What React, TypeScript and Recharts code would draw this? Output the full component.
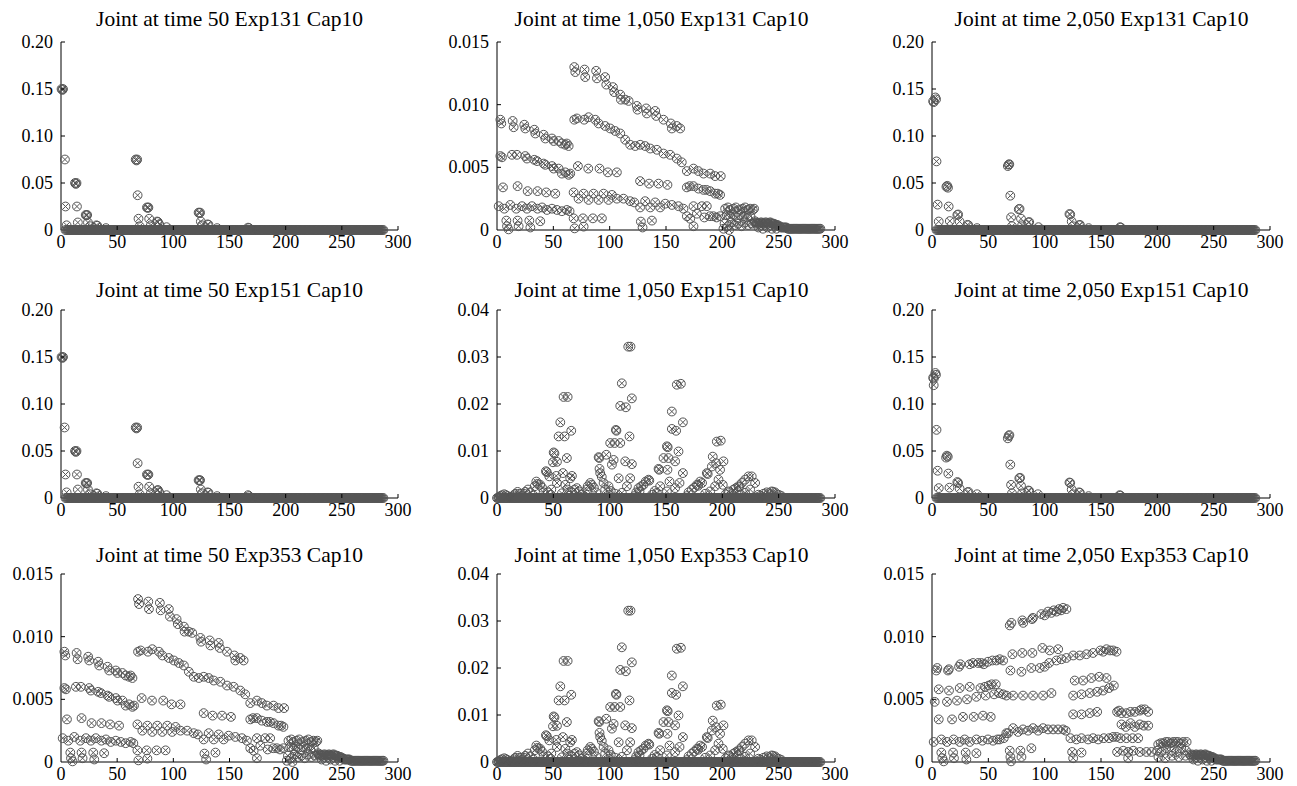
import React from 'react';
import { ScatterChart, Scatter, XAxis, YAxis } from 'recharts';

type Pt = [number, number];

const FONT = 'Liberation Serif';
const INK = '#000';
const MARK = '#555';

// axis ticks
const xTicks = [0, 50, 100, 150, 200, 250, 300];
const yTicksCoarse = [0, 0.05, 0.1, 0.15, 0.2];
const yLabelsCoarse = ['0', '0.05', '0.10', '0.15', '0.20'];
const yTicksFine = [0, 0.005, 0.01, 0.015];
const yLabelsFine = ['0', '0.005', '0.010', '0.015'];
const yTicksMid = [0, 0.01, 0.02, 0.03, 0.04];
const yLabelsMid = ['0', '0.01', '0.02', '0.03', '0.04'];

// node positions of the near-zero band (value ~0)
const nodeIdx = [
  4, 6, 8, 10, 12, 14, 16, 18, 20, 22, 24, 26, 28, 30, 32, 34, 36, 38, 40, 42, 44, 46, 48, 50,
  52, 54, 56, 58, 60, 62, 64, 66, 68, 70, 72, 74, 76, 78, 80, 82, 84, 86, 88, 90, 92, 94, 96, 98,
  100, 102, 104, 106, 108, 110, 112, 114, 116, 118, 120, 122, 124, 126, 128, 130, 132, 134, 136,
  138, 140, 142, 144, 146, 148, 150, 152, 154, 156, 158, 160, 162, 164, 166, 168, 170, 172, 174,
  176, 178, 180, 182, 184, 186, 188, 190, 192, 194, 196, 198, 200, 202, 204, 206, 208, 210, 212,
  214, 216, 218, 220, 222, 224, 226, 228, 230, 232, 234, 236, 238, 240, 242, 244, 246, 248, 250,
  252, 254, 256, 258, 260, 262, 264, 266, 268, 270, 272, 274, 276, 278, 280, 282, 284, 286,
];
const nodeIdxOdd = [
  5, 7, 9, 11, 13, 15, 17, 19, 21, 23, 25, 27, 29, 31, 33, 35, 37, 39, 41, 43, 45, 47, 49, 51,
  53, 55, 57, 59, 61, 63, 65, 67, 69, 71, 73, 75, 77, 79, 81, 83, 85, 87, 89, 91, 93, 95, 97, 99,
  101, 103, 105, 107, 109, 111, 113, 115, 117, 119, 121, 123, 125, 127, 129, 131, 133, 135, 137,
  139, 141, 143, 145, 147, 149, 151, 153, 155, 157, 159, 161, 163, 165, 167, 169, 171, 173, 175,
  177, 179, 181, 183, 185, 187, 189, 191, 193, 195, 197, 199, 201, 203, 205, 207, 209, 211, 213,
  215, 217, 219, 221, 223, 225, 227, 229, 231, 233, 235, 237, 239, 241, 243, 245, 247, 249, 251,
  253, 255, 257, 259, 261, 263, 265, 267, 269, 271, 273, 275, 277, 279, 281, 283, 285, 287,
];
const nodeIdxAll = [...nodeIdx, ...nodeIdxOdd];
const nodeIdxFull = [0, 1, 2, 3, ...nodeIdxAll];

// tail of the fine-scale panels (x > 228)
const fineTail: Pt[] = [
  [229, 0.0006], [230, 0.0005], [231, 0.0006], [232, 0.0005], [233, 0.0005], [234, 0.0006],
  [235, 0.0006], [236, 0.0005], [237, 0.0005], [238, 0.0006], [239, 0.0006], [240, 0.0005],
  [241, 0.0005], [242, 0.0006], [243, 0.0006], [244, 0.0005], [245, 0.0005], [246, 0.0005],
  [247, 0.0004], [248, 0.0004], [249, 0.0004], [250, 0.0003], [251, 0.0003], [252, 0.0002],
  [253, 0.0002], [254, 0.0002], [255, 0.0002], [256, 0.0002], [257, 0.0002], [258, 0.0001],
  [259, 0.0001], [260, 0.0001], [261, 0.0001], [262, 0.0001], [263, 0.0001], [264, 0.0001],
  [265, 0.0001], [266, 0.0001], [267, 0.0001], [268, 0.0001], [269, 0.0001], [270, 0.0001],
  [271, 0.0001], [272, 0.0001], [273, 0.0001], [274, 0.0001], [275, 0.0001], [276, 0.0001],
  [277, 0.0001], [278, 0.0001], [279, 0.0001], [280, 0.0001], [281, 0.0001], [282, 0.0001],
  [283, 0.0001], [284, 0.0001], [285, 0.0001], [286, 0.0001], [287, 0.0001],
  [232, 0.0002], [236, 0.0001], [240, 0.0002], [244, 0.0001], [248, 0.0001],
];

const exp131At50: Pt[] = [
  [0.5, 0.15], [1.2, 0.149], [1.8, 0.15], [3.5, 0.075], [4, 0.025], [5, 0.005],
  [12.5, 0.05], [13.2, 0.049], [13.8, 0.05], [14.2, 0.025], [15, 0.008],
  [22, 0.016], [22.7, 0.0155], [23.3, 0.016], [24, 0.008], [26, 0.004],
  [31.5, 0.005], [32.3, 0.0045], [40, 0.002],
  [66.5, 0.075], [67.2, 0.074], [67.8, 0.075], [68.2, 0.037], [69, 0.012], [70, 0.004],
  [76.5, 0.024], [77.2, 0.0235], [77.8, 0.024], [78.5, 0.012], [80, 0.005],
  [85.5, 0.009], [86.3, 0.0085], [87.5, 0.006], [94, 0.003],
  [122.5, 0.0185], [123.2, 0.018], [123.8, 0.0185], [124.5, 0.009], [125.5, 0.005],
  [130.5, 0.006], [131.3, 0.0055], [139, 0.002], [166.5, 0.0025], [167.5, 0.002],
];

const exp131At2050: Pt[] = [
  [1, 0.137], [1.5, 0.136], [3, 0.141], [3.6, 0.139], [4, 0.073], [5, 0.027], [6, 0.009],
  [12.8, 0.046], [13.5, 0.047], [14.2, 0.045], [14.8, 0.025], [15.8, 0.0095],
  [22.5, 0.016], [23.2, 0.0165], [24.5, 0.009],
  [31.5, 0.0055], [32.3, 0.005], [40, 0.002],
  [67.3, 0.068], [68, 0.0695], [68.6, 0.07], [69.5, 0.0365], [70.2, 0.0135], [71, 0.004],
  [77, 0.022], [77.7, 0.0225], [79, 0.012], [80, 0.005],
  [85.5, 0.008], [86.3, 0.0085], [94.5, 0.003],
  [122, 0.017], [122.7, 0.0165], [124, 0.009], [125, 0.004],
  [130.5, 0.005], [131.3, 0.0055], [139, 0.002], [167, 0.003], [167.6, 0.0025],
];

const exp151At50: Pt[] = [
  [0.5, 0.15], [1.2, 0.149], [1.8, 0.15], [3.2, 0.075], [4, 0.025], [5, 0.006],
  [12.5, 0.05], [13.2, 0.049], [13.8, 0.05], [14.2, 0.025], [15, 0.009],
  [22, 0.016], [22.7, 0.0155], [23.3, 0.016], [24, 0.009], [26, 0.004],
  [31.5, 0.005], [32.3, 0.0045], [40, 0.002],
  [66.5, 0.075], [67.2, 0.074], [67.8, 0.075], [68.2, 0.037], [69, 0.012], [70, 0.004],
  [76.5, 0.025], [77.2, 0.0245], [77.8, 0.025], [78.5, 0.012], [80, 0.005],
  [85.5, 0.008], [86.3, 0.0085], [87.5, 0.006], [94, 0.003],
  [122.5, 0.019], [123.2, 0.0185], [123.8, 0.019], [124.5, 0.009], [125.5, 0.005],
  [130.5, 0.006], [131.3, 0.0055], [139, 0.002], [166.5, 0.003], [167.5, 0.002],
];

const exp151At2050: Pt[] = [
  [1, 0.128], [1.6, 0.127], [3, 0.133], [3.5, 0.131], [1.5, 0.12], [4, 0.0725], [5, 0.029], [6, 0.0105],
  [12.5, 0.043], [13.2, 0.045], [14, 0.044], [14.5, 0.026], [15.5, 0.011],
  [22.5, 0.017], [23.2, 0.016], [24.5, 0.01],
  [31.5, 0.006], [32.3, 0.0065], [40, 0.004],
  [67.3, 0.0635], [68, 0.066], [68.7, 0.067], [69.5, 0.0355], [70.2, 0.014], [71, 0.005],
  [77.5, 0.021], [78.2, 0.0215], [79, 0.013], [80, 0.005],
  [85.5, 0.008], [86.3, 0.0075], [94, 0.004],
  [122, 0.0165], [122.7, 0.016], [124, 0.009], [125, 0.004],
  [130.5, 0.006], [131.3, 0.0055], [139, 0.002], [166.5, 0.003], [167.3, 0.0025],
];

const exp131At1050: Pt[] = [
  // nodes 0-65
  [3, 0.0088], [3.8, 0.0085], [13.9, 0.0087], [14.8, 0.0082], [24.2, 0.0084], [25.1, 0.0081],
  [33.1, 0.008], [34, 0.0077], [41.4, 0.0076], [42.9, 0.0073], [48.8, 0.0073], [50.3, 0.0071],
  [54.7, 0.0071], [57.6, 0.0069], [60.6, 0.0068], [62, 0.0069], [63.6, 0.0067],
  [3, 0.0059], [4.4, 0.0058], [13.3, 0.006], [17.7, 0.006], [25.1, 0.0059], [26.6, 0.0057],
  [33.1, 0.0056], [35.5, 0.0055], [41.4, 0.0053], [42.9, 0.0052], [48.8, 0.0051], [50.3, 0.0049],
  [54.7, 0.0049], [57.6, 0.0045], [60.6, 0.0046], [63.6, 0.0044], [65, 0.0045],
  [5.3, 0.0034], [18.3, 0.0035], [27.2, 0.0031], [36, 0.0031], [43.7, 0.003], [51.7, 0.0029],
  [1.5, 0.0019], [6.5, 0.0017], [11.8, 0.002], [17.1, 0.0017], [22.2, 0.0019], [26.6, 0.0017],
  [31, 0.0019], [36, 0.0017], [40, 0.0018], [44.3, 0.0016], [48.8, 0.0017], [53.2, 0.0016],
  [57.6, 0.0015], [62, 0.0016], [64.4, 0.0015],
  [8.3, 0.00075], [8.9, 0.0003], [10.3, 0.00005], [18.3, 0.00075], [19.2, 0.0003],
  [28.7, 0.00075], [29.6, 0.0002], [38.4, 0.0007],
  // nodes 66-165
  [68.6, 0.013], [69.5, 0.0126], [77.7, 0.0128], [78.3, 0.0122], [88, 0.0127], [88.7, 0.0121],
  [96, 0.0122], [97, 0.0116], [102.9, 0.0114], [104, 0.011], [109.4, 0.0108], [110, 0.0104],
  [113.8, 0.0104], [116.8, 0.0103], [124.1, 0.0099], [124.7, 0.0096], [132.4, 0.0097],
  [133, 0.0093], [140.4, 0.0095], [141.3, 0.0091], [147.8, 0.0088], [154.3, 0.0085],
  [155.2, 0.0081], [159.6, 0.0083], [162.6, 0.0081],
  [68.6, 0.0088], [70.9, 0.0089], [77.4, 0.0088], [81.3, 0.009], [87.2, 0.0088], [90.2, 0.0085],
  [96, 0.0083], [100.5, 0.0081], [104.9, 0.0079], [109.4, 0.0077], [113.8, 0.0072], [118.2, 0.0068],
  [122.7, 0.0067], [127.1, 0.0068], [131.5, 0.0067], [136, 0.0065], [141.9, 0.0064],
  [147.8, 0.0061], [153.7, 0.006], [159.6, 0.0057], [164, 0.0054], [168.5, 0.0047],
  [174.4, 0.0049], [178.8, 0.0047], [183.3, 0.0045], [189.2, 0.0045], [193.6, 0.0043], [198.6, 0.0043],
  [71.8, 0.0051], [81, 0.0049], [91, 0.0049], [98.4, 0.0046], [106.4, 0.0046],
  [127, 0.0039], [135, 0.0037], [143.4, 0.0037], [151.3, 0.0036],
  [68, 0.003], [72.4, 0.0025], [76.9, 0.0029], [81.3, 0.0024], [85.7, 0.0029], [90.2, 0.0024],
  [94.6, 0.0029], [99, 0.0024], [102, 0.0028], [106.4, 0.0025], [112.3, 0.0025], [118.2, 0.0023],
  [121.8, 0.0022], [127, 0.0018], [131.5, 0.0023], [136, 0.0018], [140.4, 0.0022], [144.8, 0.0018],
  [149.3, 0.0021], [155.2, 0.002], [161.1, 0.0019], [165.5, 0.0017],
  [68, 0.00093], [68.9, 0.00013], [76.3, 0.00093], [76.9, 0.00027], [85.1, 0.00093],
  [93.1, 0.00093], [127.7, 0.00067], [129.2, 0.0002], [137.5, 0.00075],
  // nodes 166-200
  [168.5, 0.0034], [171, 0.0035], [174.4, 0.0035], [178.8, 0.0033], [183.3, 0.0032], [186, 0.0032],
  [189.2, 0.0031], [193.6, 0.0029], [196, 0.0029], [198, 0.0028],
  [168.5, 0.0011], [171.5, 0.0009], [174.4, 0.0019], [177.4, 0.0013], [181.8, 0.0019], [184, 0.001],
  [186.2, 0.0019], [189, 0.0011], [192.1, 0.0011], [195, 0.001], [198, 0.0011], [174.4, 0.0003],
  // nodes 200-228
  [202.5, 0.0017], [205, 0.0018], [207, 0.0016], [209.9, 0.0017], [212, 0.0018], [215.8, 0.0016],
  [218, 0.0017], [220.2, 0.0018], [223, 0.0016], [224.7, 0.0017], [227, 0.0016], [228.2, 0.0017],
  [204, 0.0012], [207, 0.0011], [210, 0.0012], [213, 0.001], [216, 0.0012], [219, 0.0011],
  [222, 0.001], [225, 0.0011],
  [202, 0.0005], [205, 0.0003], [208, 0.0006], [211, 0.0004], [214, 0.0005], [217, 0.0003],
  [220, 0.0006], [223, 0.0004], [226, 0.0005], [229, 0.0007], [201, 0.0001], [206, 0],
];

const exp151At1050: Pt[] = [
  [1.5, 0.0002], [3, 0.0004], [4.4, 0.0006], [6.5, 0.0008], [8, 0.0006], [9.5, 0.0004],
  [13.3, 0.0002], [14.8, 0.0006], [16.3, 0.0009], [18.3, 0.0013], [20, 0.0009], [22.2, 0.0004],
  [24, 0.0009], [25.1, 0.0013], [27.5, 0.0018], [29.6, 0.0012], [32.5, 0.0005],
  [33.5, 0.0025], [34.9, 0.0035], [36, 0.003], [38.4, 0.0028], [40, 0.0022], [41.4, 0.0012],
  [43.4, 0.0057], [44.2, 0.0055], [45, 0.0012], [46.4, 0.0046], [47.3, 0.0007], [48.2, 0.0018],
  [49.7, 0.0076], [50.3, 0.0097], [51, 0.0095], [52.6, 0.0047], [53.2, 0.0032], [53.2, 0.0077],
  [54.7, 0.0131], [56.2, 0.0161], [57.6, 0.001], [58.5, 0.0053], [59.1, 0.0215], [60, 0.0131],
  [60.6, 0.0028], [62, 0.0085], [62.7, 0.0215], [62.7, 0.0018], [65, 0.0042], [65.9, 0.0143],
  [66.5, 0.0047],
  [64.4, 0.0005], [66.5, 0.0012], [68.9, 0.0018], [70.9, 0.0021], [73.3, 0.0014], [75.4, 0.0007],
  [77.4, 0.0004], [79.8, 0.0018], [80.5, 0.0025], [82.8, 0.0032], [84, 0.0028], [86, 0.0022],
  [88, 0.0012],
  [90.2, 0.0087], [90.8, 0.0085], [91, 0.0062], [91.6, 0.0053], [93, 0.0045], [94.6, 0.0032],
  [96, 0.0018], [97, 0.0092], [97.5, 0.0004], [99, 0.0025], [100.5, 0.0117], [101, 0.0015],
  [102, 0.0071], [103.5, 0.0081], [104.4, 0.0117], [104.9, 0.0009], [105.5, 0.0145], [106, 0.0143],
  [108, 0.0042], [109.4, 0.0117], [109.4, 0.0196], [110.8, 0.0244], [110.8, 0.0011], [113.8, 0.0078],
  [114.4, 0.0193], [115.3, 0.0025], [116.5, 0.0322], [117.6, 0.0131], [118.2, 0.0042],
  [118.5, 0.0322], [119.7, 0.0212], [119.7, 0.0072],
  [121.8, 0.0004], [123.6, 0.0012], [125.6, 0.0021], [126.5, 0.0014], [128, 0.0025], [130, 0.0028],
  [132, 0.0035], [134.5, 0.0039], [135.2, 0.0037], [137.5, 0.0007], [140, 0.0015],
  [141.9, 0.0011], [143.4, 0.0062], [144, 0.006], [144.8, 0.0025], [147.8, 0.0085], [150.8, 0.011],
  [151.5, 0.0108], [150.8, 0.0014], [151.3, 0.006], [152.2, 0.0085], [153.1, 0.0035],
  [155.2, 0.0184], [155.2, 0.0147], [158.1, 0.0078], [158.1, 0.0021], [159, 0.0143],
  [159.6, 0.0241], [161.1, 0.0099], [162, 0.0032], [163.2, 0.0243], [165, 0.0161], [165, 0.0053],
  [168.5, 0.0004], [170, 0.0012], [173, 0.0018], [175, 0.0022], [177.4, 0.0028], [178.5, 0.0026],
  [180.3, 0.0035], [182, 0.0032],
  [184.7, 0.0009], [186.2, 0.0053], [187, 0.0051], [189.2, 0.0014], [190.7, 0.0067], [191.5, 0.0088],
  [193.6, 0.0025], [194.5, 0.0074], [195.1, 0.012], [196.6, 0.0039], [198, 0.006], [198.6, 0.0122],
  [200.4, 0.0028], [201, 0.0078],
  [203, 0.0008], [205.4, 0.0014], [206, 0.0012], [209.9, 0.0018], [209.9, 0.0004], [212, 0.0021],
  [214.3, 0.0025], [215, 0.0023], [215.8, 0.0007], [217.3, 0.0032], [220.2, 0.0039], [220.2, 0.0011],
  [223.2, 0.0046], [224.7, 0.0018], [226.1, 0.0046], [229.1, 0.0032],
  [232, 0.0007], [234, 0.0005], [236.5, 0.0009], [239.4, 0.0012], [241, 0.001], [243.9, 0.0014],
  [245, 0.0013], [246.8, 0.0012], [249.8, 0.0007], [252, 0.0005],
];

const exp353At2050: Pt[] = [
  // nodes 0-66
  [3.8, 0.0073], [4.7, 0.0075], [14.2, 0.0073], [15, 0.0074], [24, 0.0076], [25.2, 0.0078],
  [33.5, 0.0078], [36.4, 0.0079], [40.9, 0.0079], [43.8, 0.0079], [46, 0.0078], [49.7, 0.008],
  [53.6, 0.0081], [57.2, 0.0081], [60.1, 0.0082], [63.1, 0.0081],
  [2.4, 0.0048], [6, 0.0058], [15.1, 0.0057], [24.6, 0.0059], [33.5, 0.006], [43, 0.0059],
  [47, 0.006], [50.3, 0.0061], [53, 0.0062], [56.6, 0.0062],
  [13.3, 0.0048], [22.2, 0.0049], [31.1, 0.005], [39.4, 0.0052], [47.7, 0.0053], [55.1, 0.0054],
  [59.5, 0.0055], [63.1, 0.0054], [66, 0.0053],
  [6, 0.0034], [17.8, 0.0034], [27.5, 0.0036], [37, 0.0036], [45.3, 0.0037], [52.1, 0.0036],
  [1.5, 0.0016], [8.3, 0.0018], [13.3, 0.0016], [19.2, 0.0018], [24.6, 0.0016], [29, 0.0018],
  [33.5, 0.0016], [39.4, 0.0018], [44.7, 0.0017], [49.7, 0.0018], [54.2, 0.0017], [58, 0.0018],
  [60.1, 0.0018], [63.7, 0.0019], [66, 0.0023],
  [8.3, 0.00075], [9.2, 0.0003], [10.4, 0.00005], [18.7, 0.00075], [19.5, 0.0003],
  [29.9, 0.00075], [30.5, 0.0002], [39.4, 0.0007],
  // nodes 67-120
  [69, 0.0109], [70.5, 0.0111], [80.2, 0.0113], [81, 0.0111], [88.8, 0.0114], [89.6, 0.0115],
  [97.1, 0.0118], [100, 0.0117], [103, 0.012], [106, 0.0119], [108.1, 0.0121], [110.5, 0.012],
  [112.8, 0.0122], [114.5, 0.0121], [116.4, 0.0123], [119.3, 0.0122],
  [69.6, 0.0073], [79.4, 0.0072], [88.2, 0.0075], [95.6, 0.0075], [100, 0.0076], [104, 0.0079],
  [110.5, 0.0081], [114.9, 0.0082], [119.3, 0.0083], [125.3, 0.0085], [131.2, 0.0085],
  [137.1, 0.0086], [143, 0.0087], [149.5, 0.0089], [152, 0.0088], [154.9, 0.009], [158, 0.0089],
  [160.8, 0.0089], [163.8, 0.0088],
  [71.4, 0.0086], [80.2, 0.0087], [89.1, 0.0087], [98, 0.0091], [104.5, 0.0089], [112, 0.009],
  [72, 0.0053], [80.8, 0.0053], [89.7, 0.0053], [98.6, 0.0053], [106, 0.0055],
  [67.5, 0.0023], [72, 0.0027], [76.4, 0.0024], [80.8, 0.0026], [85.3, 0.0025], [89.7, 0.0027],
  [94.2, 0.0025], [98.6, 0.0027], [103, 0.0026], [107.5, 0.0026], [111.9, 0.0026], [116.4, 0.0026],
  [118.7, 0.0025],
  [69, 0.0009], [69.6, 0.0004], [70.2, 0.00005], [78.5, 0.0009], [79.4, 0.0004], [88.2, 0.0011],
  // nodes 121-165
  [126.7, 0.0065], [134.1, 0.0065], [141.5, 0.0067], [148.4, 0.0068], [154.9, 0.0067],
  [125.3, 0.0053], [132.7, 0.0054], [140, 0.0055], [146.6, 0.0056], [151.9, 0.0057],
  [157.2, 0.0059], [161.4, 0.0061],
  [125.3, 0.0038], [132.7, 0.0038], [140, 0.0039], [146.6, 0.004],
  [122.9, 0.0019], [128.2, 0.0018], [132.7, 0.0019], [138.6, 0.0018], [143, 0.0019],
  [147.5, 0.0018], [152.5, 0.0019], [157.2, 0.0019], [160.8, 0.002], [163.8, 0.002],
  [124.4, 0.0008], [125.3, 0.0003], [132.7, 0.00075],
  // nodes 165-200
  [164.3, 0.004], [166, 0.0041], [168.2, 0.0039], [172.6, 0.0039], [176.2, 0.004], [180, 0.004],
  [184.5, 0.0041], [186, 0.0042], [188.9, 0.0042], [191.9, 0.004],
  [168.2, 0.003], [172, 0.0028], [176.2, 0.0031], [180, 0.0028], [184.5, 0.003], [188, 0.0029],
  [191.9, 0.0029],
  [167.3, 0.0019], [172.6, 0.0019], [178, 0.0019], [183, 0.0019],
  [164.3, 0.0008], [169.7, 0.0009], [174.1, 0.0008], [178.6, 0.0009], [184.5, 0.0008],
  [190.4, 0.0008], [194.8, 0.0008], [174.1, 0.0003],
  // nodes 200-228
  [200.8, 0.0014], [203, 0.0015], [205.2, 0.0015], [207.5, 0.0016], [209.7, 0.0016], [212, 0.0015],
  [214.1, 0.0016], [216.3, 0.0016], [218.5, 0.0016], [220.7, 0.0015], [223, 0.0016], [226, 0.0016],
  [199.9, 0.0009], [203.5, 0.0008], [207.8, 0.0011], [212.4, 0.0009], [216.8, 0.0008],
  [221.2, 0.0011], [225.5, 0.0009],
  [201, 0.0004], [207, 0.0003], [213, 0.0005], [219, 0.0004], [225, 0.0005],
];

// Exp353 at 50 / at 1,050 look identical to Exp131 at 1,050 / Exp151 at 1,050 in the figure
const exp353At50 = exp131At1050;
const exp353At1050 = exp151At1050;

const scales = {
  coarse: { max: 0.2, ticks: yTicksCoarse, labels: yLabelsCoarse },
  fine: { max: 0.015, ticks: yTicksFine, labels: yLabelsFine },
  mid: { max: 0.04, ticks: yTicksMid, labels: yLabelsMid },
};

type PanelDef = {
  title: string;
  row: number;
  col: number;
  pts: Pt[];
  base: number[];
  scale: keyof typeof scales;
};

const panels: PanelDef[] = [
  { title: 'Joint at time 50 Exp131 Cap10', row: 0, col: 0, pts: exp131At50, base: nodeIdxAll, scale: 'coarse' },
  { title: 'Joint at time 1,050 Exp131 Cap10', row: 0, col: 1, pts: [...exp131At1050, ...fineTail], base: [], scale: 'fine' },
  { title: 'Joint at time 2,050 Exp131 Cap10', row: 0, col: 2, pts: exp131At2050, base: nodeIdxAll, scale: 'coarse' },
  { title: 'Joint at time 50 Exp151 Cap10', row: 1, col: 0, pts: exp151At50, base: nodeIdxAll, scale: 'coarse' },
  { title: 'Joint at time 1,050 Exp151 Cap10', row: 1, col: 1, pts: exp151At1050, base: nodeIdxFull, scale: 'mid' },
  { title: 'Joint at time 2,050 Exp151 Cap10', row: 1, col: 2, pts: exp151At2050, base: nodeIdxAll, scale: 'coarse' },
  { title: 'Joint at time 50 Exp353 Cap10', row: 2, col: 0, pts: [...exp353At50, ...fineTail], base: [], scale: 'fine' },
  { title: 'Joint at time 1,050 Exp353 Cap10', row: 2, col: 1, pts: exp353At1050, base: nodeIdxFull, scale: 'mid' },
  { title: 'Joint at time 2,050 Exp353 Cap10', row: 2, col: 2, pts: [...exp353At2050, ...fineTail], base: [], scale: 'fine' },
];

// layout (page pixels)
const PLOT_LEFT = [61, 497, 932];
const PLOT_W = [337, 338, 338];
const PLOT_TOP = [42, 310, 574];
const PLOT_H = 188;
const TITLE_X = [229.5, 661.5, 1101.5];
const TITLE_Y = [26, 297, 562];
const Y_W = 60;
const X_H = 40;
const M_TOP = 10;
const M_RIGHT = 20;

const Marker = (props: any) => {
  const { cx, cy } = props;
  if (cx == null || cy == null) return <g />;
  const r = 4.4;
  const d = 3;
  return (
    <g stroke={MARK} strokeWidth={1} fill="none">
      <circle cx={cx} cy={cy} r={r} />
      <path d={`M${cx - d},${cy - d}L${cx + d},${cy + d}M${cx - d},${cy + d}L${cx + d},${cy - d}`} />
    </g>
  );
};

function Panel({ p }: { p: PanelDef }) {
  const sc = scales[p.scale];
  const width = Y_W + PLOT_W[p.col] + M_RIGHT;
  const height = M_TOP + PLOT_H + X_H;
  const data = [
    ...p.base.map((x) => ({ x, y: 0 })),
    ...p.pts.map(([x, y]) => ({ x, y })),
  ];

  const xTick = (t: any) => (
    <g>
      {t.payload.value > 0 && (
        <line x1={t.x} x2={t.x} y1={t.y - 3} y2={t.y - 7} stroke={INK} />
      )}
      <text x={t.x} y={t.y + 15} textAnchor="middle" style={{ fontSize: 18, fontFamily: FONT }} fill={INK}>
        {String(t.payload.value)}
      </text>
    </g>
  );

  const yTick = (t: any) => {
    const i = sc.ticks.indexOf(t.payload.value);
    return (
      <g>
        {t.payload.value > 0 && (
          <line x1={t.x + 8} x2={t.x + 12} y1={t.y} y2={t.y} stroke={INK} />
        )}
        <text x={t.x} y={t.y} dy="0.34em" textAnchor="end" style={{ fontSize: 18, fontFamily: FONT }} fill={INK}>
          {sc.labels[i]}
        </text>
      </g>
    );
  };

  return (
    <div style={{ position: 'absolute', left: PLOT_LEFT[p.col] - Y_W, top: PLOT_TOP[p.row] - M_TOP }}>
      <ScatterChart width={width} height={height} margin={{ top: M_TOP, right: M_RIGHT, bottom: 0, left: 0 }}>
        <XAxis
          type="number"
          dataKey="x"
          domain={[0, 300]}
          ticks={xTicks}
          interval={0}
          height={X_H}
          tickSize={0}
          tickMargin={3}
          tickLine={false}
          axisLine={{ stroke: INK }}
          tick={xTick}
        />
        <YAxis
          type="number"
          dataKey="y"
          domain={[0, sc.max]}
          ticks={sc.ticks}
          interval={0}
          width={Y_W}
          tickSize={0}
          tickMargin={8}
          tickLine={false}
          axisLine={{ stroke: INK }}
          tick={yTick}
        />
        <Scatter data={data} shape={Marker} isAnimationActive={false} />
      </ScatterChart>
    </div>
  );
}

export default function App() {
  return (
    <div style={{ position: 'absolute', left: 0, top: 0, width: 1297, height: 786, background: '#fff', fontFamily: FONT }}>
      {panels.map((p) => (
        <Panel key={p.title} p={p} />
      ))}
      <svg width={1297} height={786} style={{ position: 'absolute', left: 0, top: 0, pointerEvents: 'none' }}>
        {panels.map((p) => (
          <text
            key={p.title}
            x={TITLE_X[p.col]}
            y={TITLE_Y[p.row]}
            textAnchor="middle"
            style={{ fontSize: 21.5, fontFamily: FONT }}
            fill={INK}
          >
            {p.title}
          </text>
        ))}
      </svg>
    </div>
  );
}
